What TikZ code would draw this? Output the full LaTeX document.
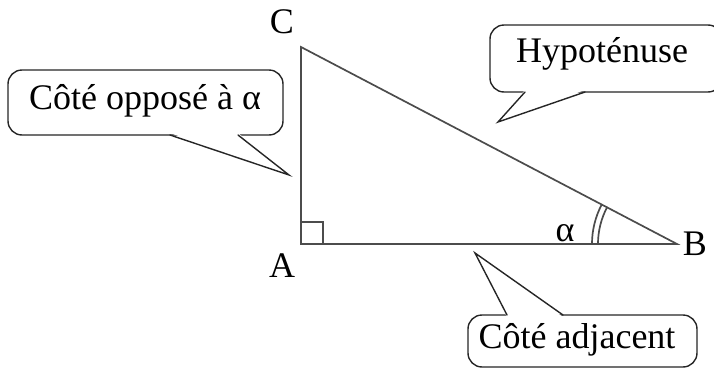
\documentclass[tikz,border=0pt]{standalone}
\usepackage{fontspec}
\setmainfont{Liberation Serif}
\usetikzlibrary{calc}

\begin{document}
\begin{tikzpicture}[x=0.5pt,y=-0.5pt,line cap=round,
	cote/.style={draw=black!70,line width=0.85pt},
	bulle/.style={draw=black!85,line width=0.7pt,fill=white,rounded corners=7pt},
	queue/.style={draw=black!85,line width=0.7pt,line join=miter},
	etiq/.style={font=\fontsize{18}{20}\selectfont,inner sep=0pt,anchor=base}]
	
	\useasboundingbox (0,0) rectangle (714,370);
	\clip (0,0) rectangle (714,370);
	
	% ---- sommets du triangle ----
	\coordinate (A) at (301,244);
	\coordinate (B) at (677,244);
	\coordinate (C) at (301,47);
	
	% ---- triangle rectangle en A ----
	\draw[cote,line join=miter] (A) -- (B) -- (C) -- cycle;
	\draw[cote] ($(A)+(0,-22)$) -- ++(22,0) -- ++(0,22);
	
	% ---- angle alpha en B (double arc) ----
	\draw[cote] ($(B)+(-79,0)$) arc[start angle=180,end angle=152.35,radius=39.5pt];
	\draw[cote] ($(B)+(-85,0)$) arc[start angle=180,end angle=152.35,radius=42.5pt];
	
	% ---- noms des sommets ----
	\node[etiq] (labC) at (282,33) {C};
	\node[etiq] (labA) at (282,277) {A};
	\node[etiq] (labB) at (695,255) {B};
	\node[etiq] (alpha) at (565,241) {α};
	
	% ---- bulle : cote oppose ----
	\coordinate (pOpp) at (289,175);
	\draw[bulle] (8,70) rectangle (283,135);
	\fill[white] (170,133) -- (238,133) -- (pOpp) -- cycle;
	\draw[queue] (170,135) -- (pOpp) -- (238,135);
	\node[etiq] (oppose) at (145,109) {Côté opposé à α};
	
	% ---- bulle : hypotenuse ----
	\coordinate (pHyp) at (498,122);
	\draw[bulle] (490,25) rectangle (722,92);
	\fill[white] (525,90) -- (585,90) -- (pHyp) -- cycle;
	\draw[queue] (525,92) -- (pHyp) -- (585,92);
	\node[etiq] (hypo) at (602,62) {Hypoténuse};
	
	% ---- bulle : cote adjacent ----
	\coordinate (pAdj) at (475,253);
	\draw[bulle] (468,315) rectangle (697,367);
	\fill[white] (507,317) -- (563,317) -- (pAdj) -- cycle;
	\draw[queue] (507,315) -- (pAdj) -- (563,315);
	\node[etiq] (adjacent) at (577,348) {Côté adjacent};
	
\end{tikzpicture}
\end{document}
